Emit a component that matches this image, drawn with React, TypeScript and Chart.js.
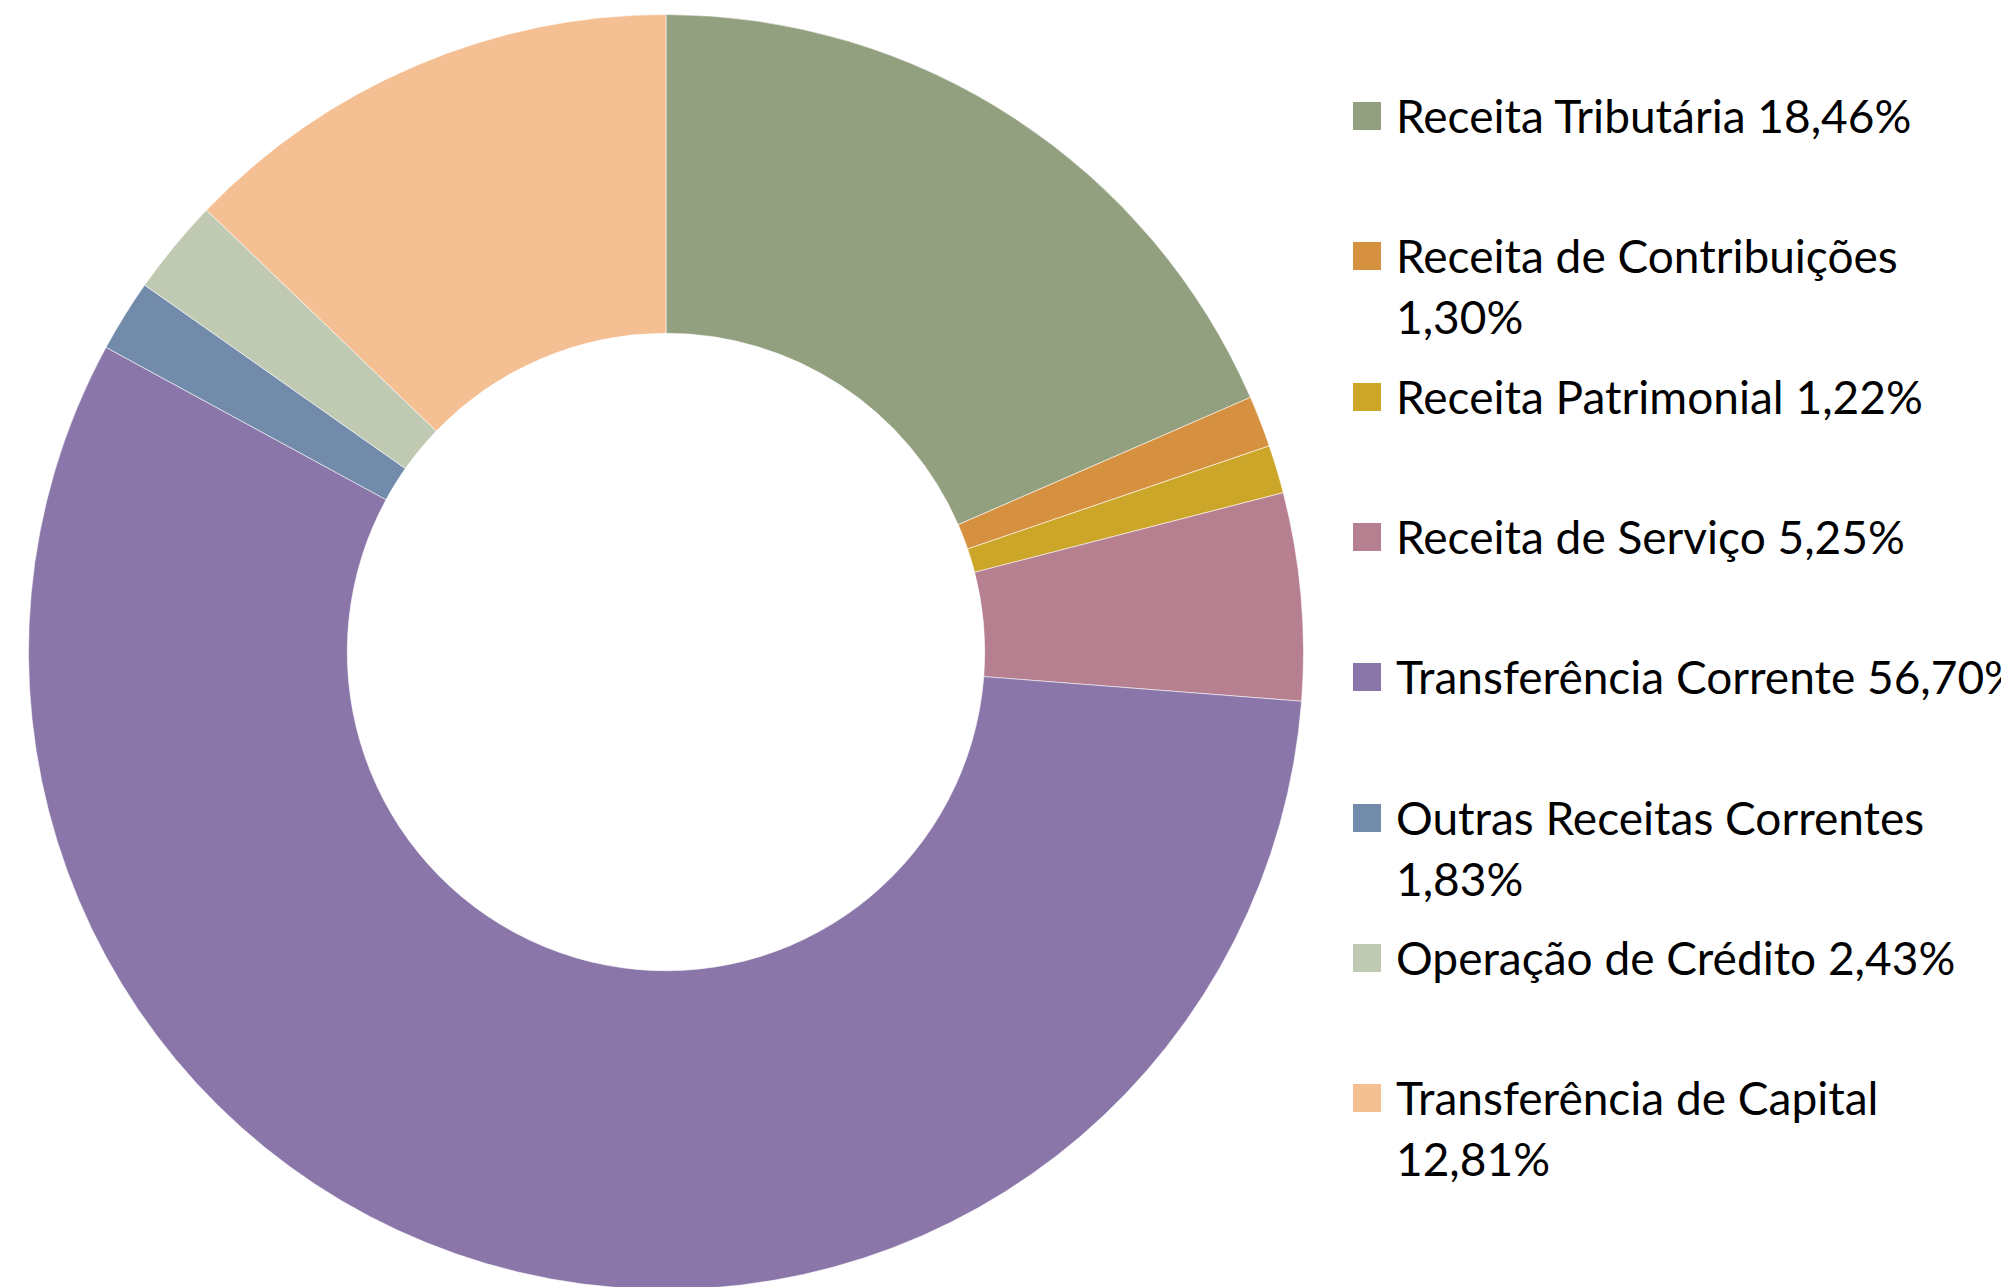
import React, { useEffect, useRef } from "react";
import { Chart, registerables } from "chart.js";

Chart.register(...registerables);

const categories = [
  "Receita Tributária",
  "Receita de Contribuições",
  "Receita Patrimonial",
  "Receita de Serviço",
  "Transferência Corrente",
  "Outras Receitas Correntes",
  "Operação de Crédito",
  "Transferência de Capital",
];
const shares = [18.46, 1.3, 1.22, 5.25, 56.7, 1.83, 2.43, 12.81];
const colors = [
  "#93A080",
  "#D69140",
  "#CCA628",
  "#B68090",
  "#8A76A8",
  "#728BAB",
  "#C0C9B2",
  "#F5BF94",
];

const fmt = (v: number) => v.toFixed(2).replace(".", ",") + "%";

const FONT = "Lato, 'Open Sans', 'DejaVu Sans', sans-serif";

export default function App() {
  const ref = useRef<HTMLCanvasElement | null>(null);

  useEffect(() => {
    document.documentElement.style.overflow = "hidden";
    document.body.style.margin = "0";
    document.body.style.overflow = "hidden";
    const ctx = ref.current!;
    const chart = new Chart(ctx, {
      type: "doughnut",
      data: {
        labels: categories,
        datasets: [
          {
            data: shares,
            backgroundColor: colors,
            borderColor: "rgba(255,255,255,0.55)",
            borderWidth: 1,
          },
        ],
      },
      options: {
        responsive: false,
        maintainAspectRatio: false,
        animation: false,
        cutout: "50%",
        layout: { padding: 0 },
        plugins: {
          legend: { display: false },
          tooltip: { enabled: false },
        },
      },
    });
    return () => chart.destroy();
  }, []);

  return (
    <div
      style={{
        position: "relative",
        width: 2001,
        height: 1287,
        overflow: "hidden",
        background: "#fff",
      }}
    >
      <canvas
        ref={ref}
        width={1276}
        height={1276}
        style={{ position: "absolute", left: 28, top: 14, width: 1276, height: 1276 }}
      />
      {categories.map((c, i) => (
        <div
          key={c}
          style={{
            position: "absolute",
            left: 1353,
            top: 116 - 31 + i * 140.3,
            width: 700,
          }}
        >
          <div
            style={{
              position: "absolute",
              left: 0,
              top: 17,
              width: 28,
              height: 28,
              background: colors[i],
            }}
          />
          <div
            style={{
              position: "absolute",
              left: 43,
              top: 0,
              width: 640,
              fontFamily: FONT,
              fontSize: 46,
              lineHeight: "61px",
              color: "#000",
            }}
          >
            {c + " " + fmt(shares[i])}
          </div>
        </div>
      ))}
    </div>
  );
}
